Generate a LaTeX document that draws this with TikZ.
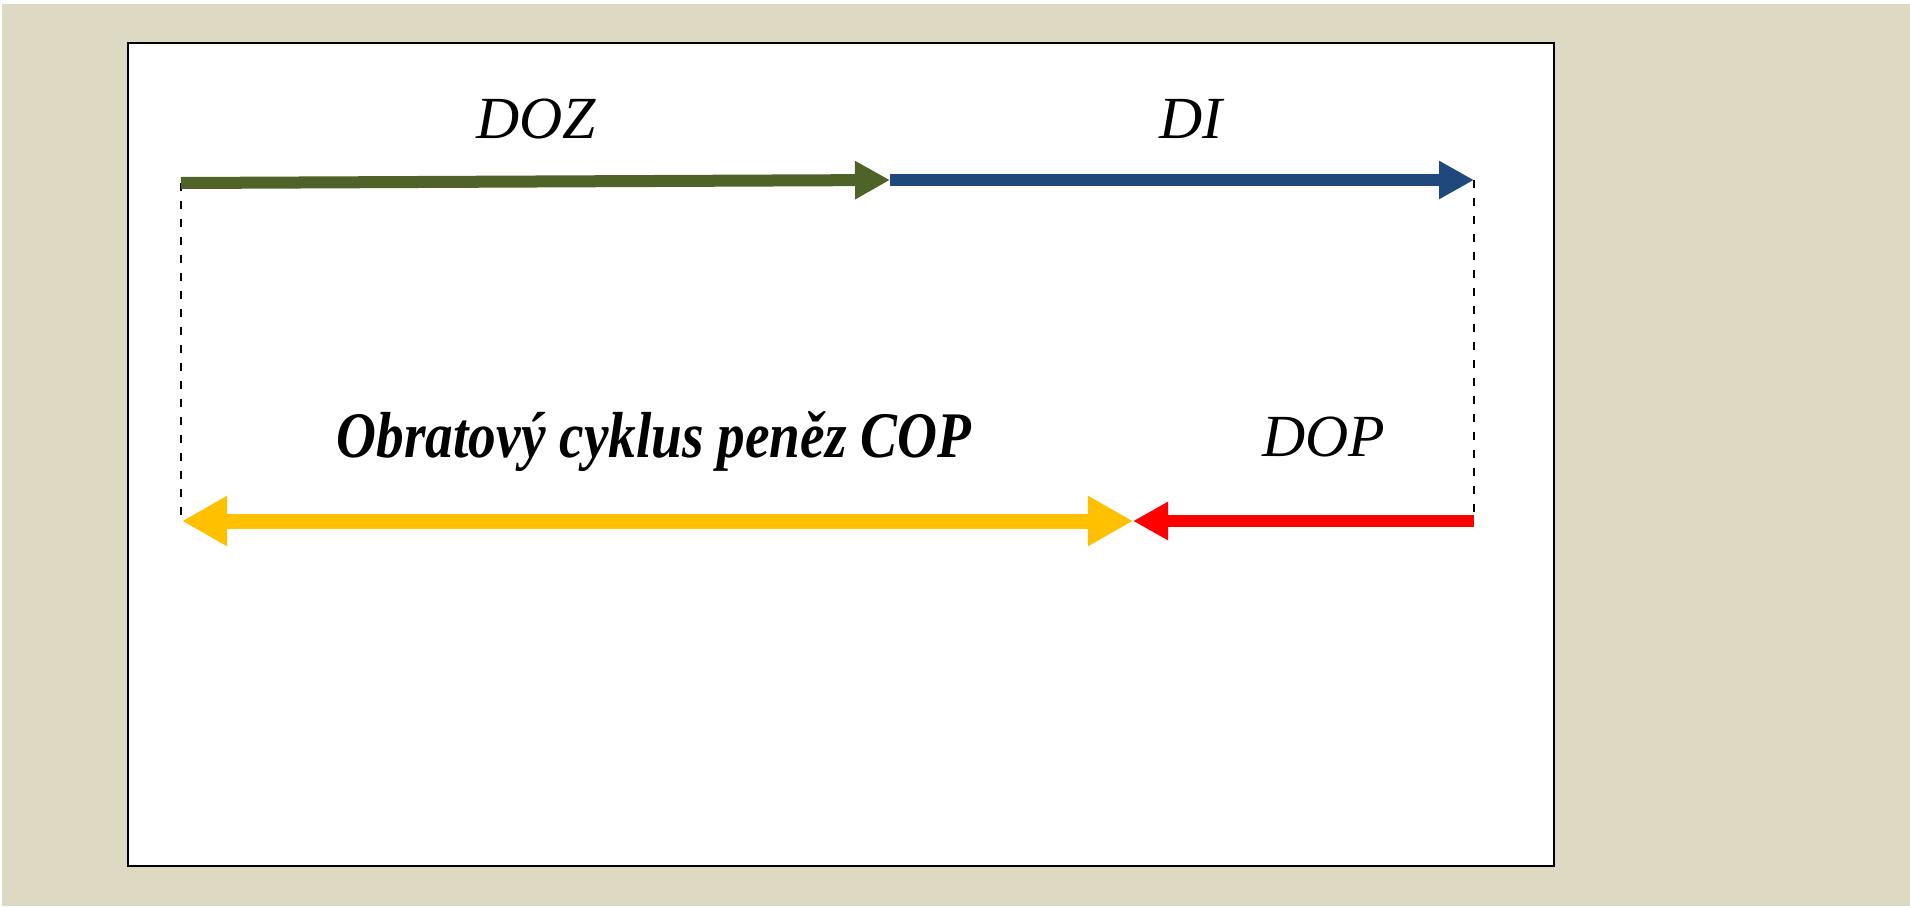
\documentclass[tikz,border=0pt]{standalone}
\usepackage{fontspec}
\setmainfont{Liberation Serif}
\newfontfamily\condserif[FakeStretch=0.85]{Liberation Serif}
\usetikzlibrary{arrows.meta}

\definecolor{bgbeige}{HTML}{DDD9C3}
\definecolor{dozgreen}{HTML}{4F6228}
\definecolor{diblue}{HTML}{1F497D}
\definecolor{copyellow}{HTML}{FFC000}
\definecolor{dopred}{HTML}{FF0000}

\begin{document}
\begin{tikzpicture}[x=0.01cm, y=-0.01cm,
  fatarrow/.style={line width=0.12cm, -{Triangle[length=0.35cm, width=0.36cm]}},
  copline/.style={line width=0.15cm, {Triangle[length=0.45cm, width=0.47cm]}-{Triangle[length=0.45cm, width=0.47cm]}},
  guide/.style={line width=0.75pt, dash pattern=on 0.08cm off 0.1cm},
  lbl/.style={anchor=base, font=\fontsize{17}{20}\selectfont\itshape}]
  \useasboundingbox (0,0) rectangle (1910,906);
  \fill[bgbeige] (2,4) rectangle (1910,906);
  \draw[line width=0.7pt, fill=white] (128,43) rectangle (1554,866);

  % ends of the arrows
  \coordinate (dozA) at (181,183);
  \coordinate (dozB) at (890,180);
  \coordinate (diB) at (1474,180);
  \coordinate (copA) at (182,521);
  \coordinate (copB) at (1133,521);
  \coordinate (dopA) at (1474,521);
  \coordinate (leftfoot) at (181,518);
  \coordinate (rightfoot) at (1474,518);

  \draw[guide] (dozA) -- (leftfoot);
  \draw[guide] (diB) -- (rightfoot);

  \draw[fatarrow, dozgreen] (dozA) -- (dozB);
  \draw[fatarrow, diblue] (dozB) -- (diB);
  \draw[copline, copyellow] (copA) -- (copB);
  \draw[fatarrow, dopred] (dopA) -- (copB);

  \node[lbl] (doz) at (536,138) {DOZ};
  \node[lbl] (di) at (1191,138) {DI};
  \node[anchor=base, font=\fontsize{18.5}{22}\selectfont\condserif\bfseries\itshape] (cop) at (654,457) {Obratový cyklus peněz COP};
  \node[lbl] (dop) at (1324,456) {DOP};
\end{tikzpicture}
\end{document}
